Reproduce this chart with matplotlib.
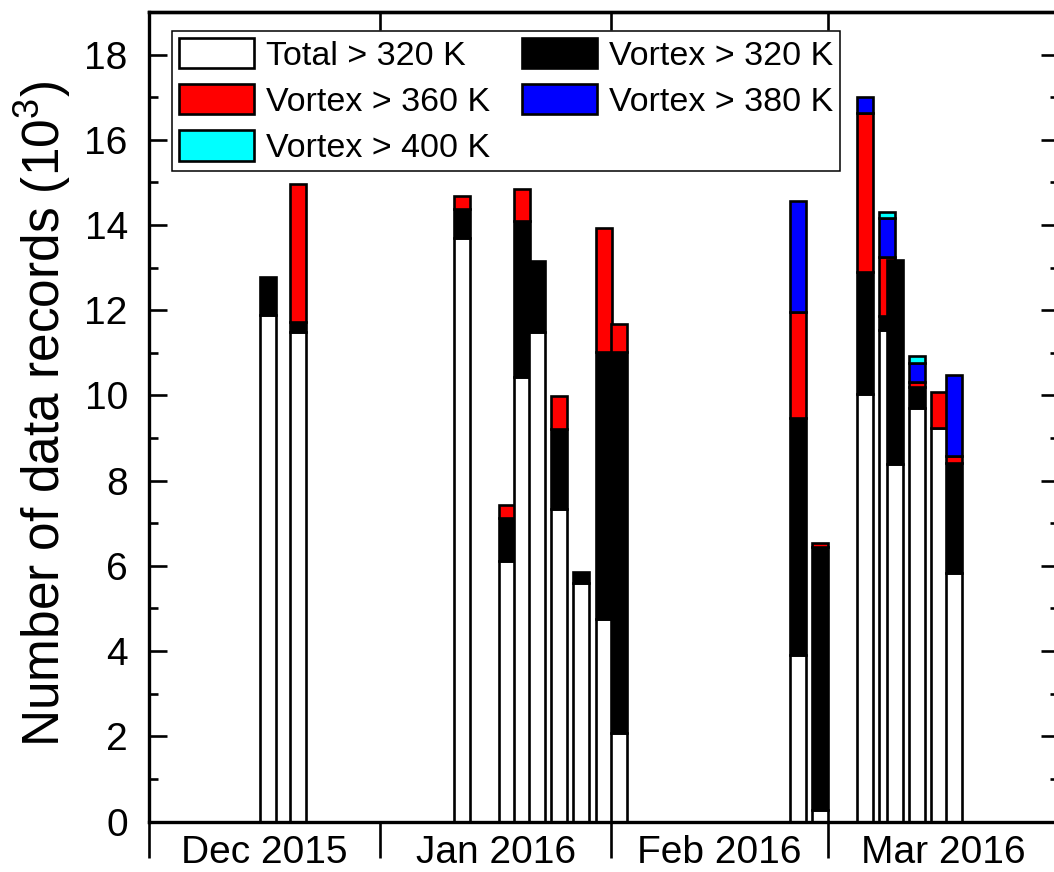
import numpy as np
import matplotlib
matplotlib.use("Agg")
import matplotlib.pyplot as plt
import matplotlib.dates as mdates
from matplotlib.patches import Patch
from matplotlib.ticker import MultipleLocator, FixedLocator, NullFormatter

plt.rcParams['font.family'] = ['Liberation Sans', 'DejaVu Sans']
plt.rcParams['mathtext.fontset'] = 'custom'
plt.rcParams['mathtext.rm'] = 'Liberation Sans'
plt.rcParams['mathtext.it'] = 'Liberation Sans:italic'

# ---- data (segment heights, 10^3 records) ----
dates = ['2015-12-17', '2015-12-21', '2016-01-12', '2016-01-18', '2016-01-20',
         '2016-01-22', '2016-01-25', '2016-01-28', '2016-01-31', '2016-02-02',
         '2016-02-26', '2016-02-29', '2016-03-06', '2016-03-09', '2016-03-10',
         '2016-03-13', '2016-03-16', '2016-03-18']
total_320 = [11.89, 11.50, 13.69, 6.11, 10.44, 11.48, 7.33, 5.59, 4.75, 2.07,
             3.91, 0.27, 10.03, 11.54, 8.38, 9.71, 9.23, 5.83]
vortex_320 = [0.88, 0.23, 0.68, 1.02, 3.66, 1.68, 1.89, 0.26, 6.28, 8.94,
              5.55, 6.18, 2.86, 0.33, 4.80, 0.48, 0.00, 2.58]
vortex_360 = [0.00, 3.23, 0.31, 0.30, 0.75, 0.00, 0.76, 0.00, 2.89, 0.67,
              2.49, 0.08, 3.73, 1.39, 0.00, 0.12, 0.84, 0.18]
vortex_380 = [0.00, 0.00, 0.00, 0.00, 0.00, 0.00, 0.00, 0.00, 0.00, 0.00,
              2.62, 0.00, 0.39, 0.90, 0.00, 0.44, 0.00, 1.88]
vortex_400 = [0.00, 0.00, 0.00, 0.00, 0.00, 0.00, 0.00, 0.00, 0.00, 0.00,
              0.00, 0.00, 0.00, 0.14, 0.00, 0.17, 0.00, 0.00]

series_labels = ['Total > 320 K', 'Vortex > 320 K', 'Vortex > 360 K',
                 'Vortex > 380 K', 'Vortex > 400 K']
series_colors = ['white', 'black', '#ff0000', '#0000ff', '#00ffff']

month_starts = ['2015-12-01', '2016-01-01', '2016-02-01', '2016-03-01', '2016-04-01']
month_labels = ['Dec 2015', 'Jan 2016', 'Feb 2016', 'Mar 2016']

# ---- figure ----
fig = plt.figure(figsize=(10.54, 8.72), dpi=100)
ax = fig.add_axes([148.7 / 1054, (872 - 821.5) / 872,
                   (1058.8 - 148.7) / 1054, (821.5 - 12) / 872])

x = mdates.datestr2num(dates)
bounds = mdates.datestr2num(month_starts)

series = [total_320, vortex_320, vortex_360, vortex_380, vortex_400]
bottom = np.zeros(len(dates))
bar_w = 2.15
for s, (vals, col) in enumerate(zip(series, series_colors)):
    vals = np.asarray(vals, dtype=float)
    mask = vals > 0
    bars = ax.bar(x[mask], vals[mask], width=bar_w, bottom=bottom[mask],
                  color=col, edgecolor='black', linewidth=1.9)
    idx = np.nonzero(mask)[0]
    for p, i in zip(bars.patches, idx):
        p.set_zorder(2 + i * 0.01 + s * 0.001)
    bottom = bottom + vals

ax.set_xlim(bounds[0], bounds[-1])
ax.set_ylim(0, 19)

# y axis
ax.yaxis.set_major_locator(MultipleLocator(2))
ax.yaxis.set_minor_locator(MultipleLocator(1))
ax.set_yticks(np.arange(0, 19, 2))
ax.tick_params(axis='y', which='both', direction='in', left=True, right=True,
               width=1.9, labelsize=28, pad=15)
ax.tick_params(axis='y', which='major', length=13)
ax.tick_params(axis='y', which='minor', length=6.5)

# x axis: boundary ticks outward, labels centred in months
mids = (bounds[:-1] + bounds[1:]) / 2
ax.xaxis.set_major_locator(FixedLocator(bounds))
ax.xaxis.set_major_formatter(NullFormatter())
ax.xaxis.set_minor_locator(FixedLocator(mids))
ax.set_xticklabels(month_labels, minor=True)
ax.tick_params(axis='x', which='major', direction='out', length=26, width=1.9,
               top=False)
ax.tick_params(axis='x', which='minor', direction='out', length=0,
               labelsize=28, pad=10, top=False)

sec = ax.secondary_xaxis('top')
sec.xaxis.set_major_locator(FixedLocator(bounds))
sec.tick_params(axis='x', direction='in', length=13, width=1.9, labeltop=False)
sec.spines['top'].set_linewidth(2.4)

for sp in ax.spines.values():
    sp.set_linewidth(2.4)

ax.set_ylabel('Number of data records (10$^3$)', fontsize=37)
ax.yaxis.set_label_coords(-0.083, 0.503)

# legend
handles = [Patch(facecolor=c, edgecolor='black', linewidth=1.9) for c in series_colors]
order = [0, 2, 4, 1, 3]
leg = ax.legend([handles[i] for i in order], [series_labels[i] for i in order],
                ncol=2, loc='upper left', bbox_to_anchor=(0.0256, 0.9765),
                borderaxespad=0, fontsize=24.5, handlelength=2.2,
                handleheight=1.0, handletextpad=0.35, columnspacing=0.95,
                labelspacing=0.36, borderpad=0.2, fancybox=False,
                framealpha=1, edgecolor='black')
leg.get_frame().set_linewidth(1.1)
leg.set_zorder(10)

fig.savefig('out.png', dpi=100)
